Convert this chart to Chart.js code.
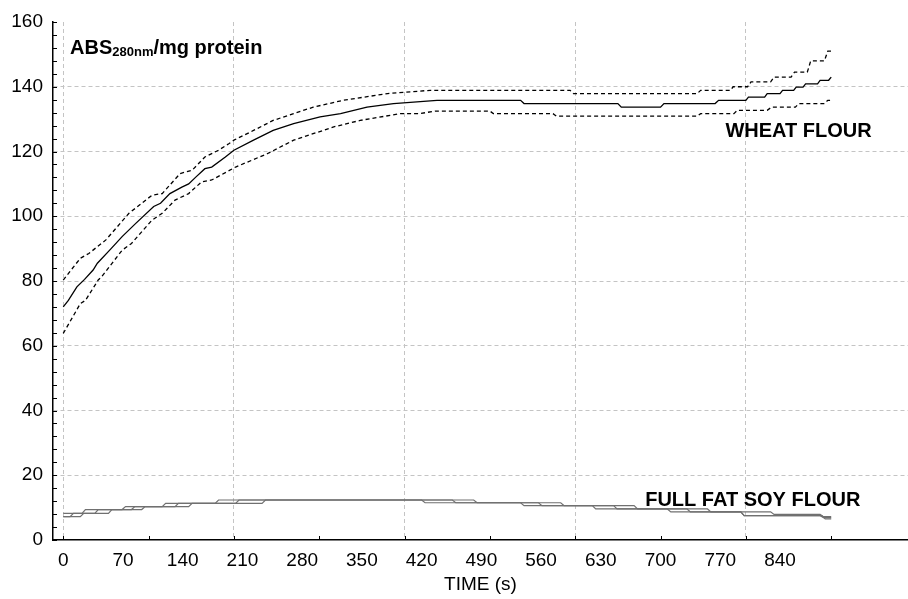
<!DOCTYPE html>
<html>
<head>
<meta charset="utf-8">
<script src="https://cdn.jsdelivr.net/npm/chart.js@4.4.0/dist/chart.umd.min.js"></script>
<style>
  html, body { margin: 0; padding: 0; background: #fff; }
  canvas { display: block; }
</style>
</head>
<body>
<canvas id="chart" width="908" height="599"></canvas>
<script>
'use strict';

// tick labels
var timeLabels = [0, 70, 140, 210, 280, 350, 420, 490, 560, 630, 700, 770, 840];
var gridTimes = [0, 200, 400, 600, 800];
var absLabels = [0, 20, 40, 60, 80, 100, 120, 140, 160];

// wheat flour, [time (s), ABS/mg protein]
var wheatMean = [[0,72],[6,74],[16,78.2],[25,80.5],[35,83.4],[40,85.5],[55,89.7],[69,93.7],[85,97.8],
  [106,103],[114,104],[125,107],[139,109],[147,110],[155,112],[166,114.7],[174,115.2],[190,118.3],
  [200,120.4],[223,123.5],[246,126.5],[270,128.6],[301,130.7],[325,131.7],[356,133.7],[387,134.8],
  [438,135.8],[536,135.8],[540,134.8],[650,134.8],[654,133.7],[700,133.7],[704,134.8],[764,134.8],
  [768,135.8],[800,135.8],[803,136.8],[822,136.8],[825,137.9],[840,137.9],[843,138.9],[856,138.9],
  [859,139.9],[867,139.9],[870,140.9],[884,140.9],[887,142],[897,142],[900,143]];
var wheatUpper = [[0,80.3],[20,87],[30,88.5],[50,92.7],[77,100.9],[104,106.5],[116,107],[137,113.2],
  [151,114.2],[166,118.3],[182,120.4],[194,122.4],[200,123.5],[223,126.5],[246,129.6],[270,131.7],
  [293,133.7],[328,135.8],[380,137.9],[430,138.9],[594,138.9],[598,137.9],[743,137.9],[747,138.9],
  [782,138.9],[785,140],[802,140],[806,141.5],[829,141.5],[833,143],[853,143],[857,144.5],[872,144.5],
  [876,148],[892,148],[896,151],[900,151]];
var wheatLower = [[0,63.8],[20,73],[26,74],[41,80.3],[45,81.3],[69,89.5],[80,91.6],[104,98.8],
  [116,100.9],[131,105],[147,107],[162,110.6],[174,111.2],[202,115.2],[239,119.3],[270,123.5],
  [317,127.6],[348,129.6],[395,131.7],[418,131.7],[436,132.5],[500,132.5],[504,131.7],[574,131.7],
  [578,130.9],[743,130.9],[747,131.7],[786,131.7],[790,132.7],[825,132.7],[830,133.7],[858,133.7],
  [862,134.8],[892,134.8],[896,135.8],[900,135.8]];

// full fat soy flour, three nearly overlapping lines
var soyUpper = [[0,8.24],[22,8.24],[26,9.4],[69,9.4],[73,10.3],[116,10.3],[120,11.3],[178,11.3],
  [182,12.35],[481,12.35],[485,11.5],[583,11.5],[587,10.6],[669,10.6],[673,9.6],[755,9.6],[759,8.7],
  [829,8.7],[833,7.9],[887,7.9],[891,7.2],[900,7.2]];
var soyMean = [[0,7.2],[8,7.2],[12,8.24],[37,8.24],[41,9.4],[80,9.4],[84,10.3],[131,10.3],[135,11.3],
  [202,11.3],[206,12.35],[456,12.35],[460,11.5],[557,11.5],[561,10.6],[645,10.6],[649,9.6],[731,9.6],
  [735,8.7],[794,8.7],[798,7.5],[887,7.5],[891,6.9],[900,6.9]];
var soyLower = [[0,7.2],[20,7.2],[24,8.24],[53,8.24],[57,9.4],[92,9.4],[96,10.3],[147,10.3],[151,11.3],
  [233,11.3],[237,12.35],[420,12.35],[424,11.5],[536,11.5],[540,10.6],[620,10.6],[624,9.6],[708,9.6],
  [712,8.7],[794,8.7],[798,7.5],[889,7.5],[893,6.5],[900,6.5]];

var FONT = '"Liberation Sans", Arial, Helvetica, sans-serif';

function toPoints(rows) {
  return rows.map(function(r){ return {x: r[0], y: r[1]}; });
}

function series(rows, color, width, dash) {
  return {
    data: toPoints(rows),
    borderColor: color,
    borderWidth: width,
    borderDash: dash || [],
    pointRadius: 0,
    tension: 0,
    fill: false
  };
}

// inward tick marks and the text written inside the plot
var decorations = {
  id: 'decorations',
  afterDatasetsDraw: function(chart){
    var ctx = chart.ctx;
    var xs = chart.scales.x, ys = chart.scales.y;
    var area = chart.chartArea;
    ctx.save();
    ctx.strokeStyle = '#000';
    ctx.lineWidth = 1;
    for (var t = 0; t <= 900; t += 100) {
      var px = Math.round(xs.getPixelForValue(t)) + 0.5;
      ctx.beginPath();
      ctx.moveTo(px, area.bottom);
      ctx.lineTo(px, area.bottom - 4);
      ctx.stroke();
    }
    for (var v = 0; v <= 160; v += 4) {
      var py = Math.round(ys.getPixelForValue(v)) + 0.5;
      ctx.beginPath();
      ctx.moveTo(area.left, py);
      ctx.lineTo(area.left + 4, py);
      ctx.stroke();
    }

    ctx.fillStyle = '#000';
    ctx.textBaseline = 'alphabetic';
    ctx.textAlign = 'left';
    // y axis title
    var x0 = xs.getPixelForValue(8), y0 = ys.getPixelForValue(150);
    ctx.font = 'bold 20px ' + FONT;
    ctx.fillText('ABS', x0, y0);
    x0 += ctx.measureText('ABS').width;
    ctx.font = 'bold 13px ' + FONT;
    ctx.fillText('280nm', x0, y0 + 2);
    x0 += ctx.measureText('280nm').width;
    ctx.font = 'bold 20px ' + FONT;
    ctx.fillText('/mg protein', x0, y0);

    ctx.fillText('WHEAT FLOUR', xs.getPixelForValue(776), ys.getPixelForValue(124.4));
    ctx.fillText('FULL FAT SOY FLOUR', xs.getPixelForValue(682), ys.getPixelForValue(10.5));
    ctx.restore();
  }
};

var soyColor = '#707070';
var ctx = document.getElementById('chart').getContext('2d');
var chart = new Chart(ctx, {
  type: 'line',
  data: {
    datasets: [
      series(soyLower, soyColor, 1.2),
      series(soyMean, soyColor, 1.2),
      series(soyUpper, soyColor, 1.2),
      series(wheatLower, '#000', 1.3, [4, 3]),
      series(wheatUpper, '#000', 1.3, [4, 3]),
      series(wheatMean, '#000', 1.3)
    ]
  },
  options: {
    responsive: false,
    animation: false,
    devicePixelRatio: 1,
    layout: { padding: { top: 22, right: 0, left: 0, bottom: 0 } },
    plugins: {
      legend: { display: false },
      tooltip: { enabled: false }
    },
    scales: {
      x: {
        type: 'linear',
        min: -12,
        max: 990,
        afterBuildTicks: function(s){ s.ticks = timeLabels.map(function(v){ return {value: v}; }); },
        afterFit: function(s){ s.height = 59; },
        grid: { display: false, drawTicks: false },
        border: { display: true, color: '#000', width: 1.5 },
        ticks: { color: '#000', font: { family: FONT, size: 19 }, padding: 9, maxRotation: 0, autoSkip: false },
        title: { display: true, text: 'TIME (s)', color: '#000', font: { family: FONT, size: 19 }, padding: { top: 0, bottom: 3 } }
      },
      xg: {
        type: 'linear',
        position: 'bottom',
        min: -12,
        max: 990,
        afterBuildTicks: function(s){ s.ticks = gridTimes.map(function(v){ return {value: v}; }); },
        afterFit: function(s){ s.height = 0; },
        ticks: { display: false },
        grid: { color: '#c4c4c4', lineWidth: 1, drawTicks: false },
        border: { display: false, dash: [4, 3] }
      },
      y: {
        min: 0,
        max: 160,
        afterBuildTicks: function(s){ s.ticks = absLabels.map(function(v){ return {value: v}; }); },
        afterFit: function(s){ s.width = 53; },
        grid: {
          color: function(c){ return (c.tick && (c.tick.value === 0 || c.tick.value === 160)) ? 'rgba(0,0,0,0)' : '#c4c4c4'; },
          lineWidth: 1,
          drawTicks: false
        },
        border: { display: true, color: '#000', width: 1.5, dash: [4, 3] },
        ticks: { color: '#000', font: { family: FONT, size: 19 }, padding: 10 }
      }
    }
  },
  plugins: [decorations]
});
</script>
</body>
</html>
